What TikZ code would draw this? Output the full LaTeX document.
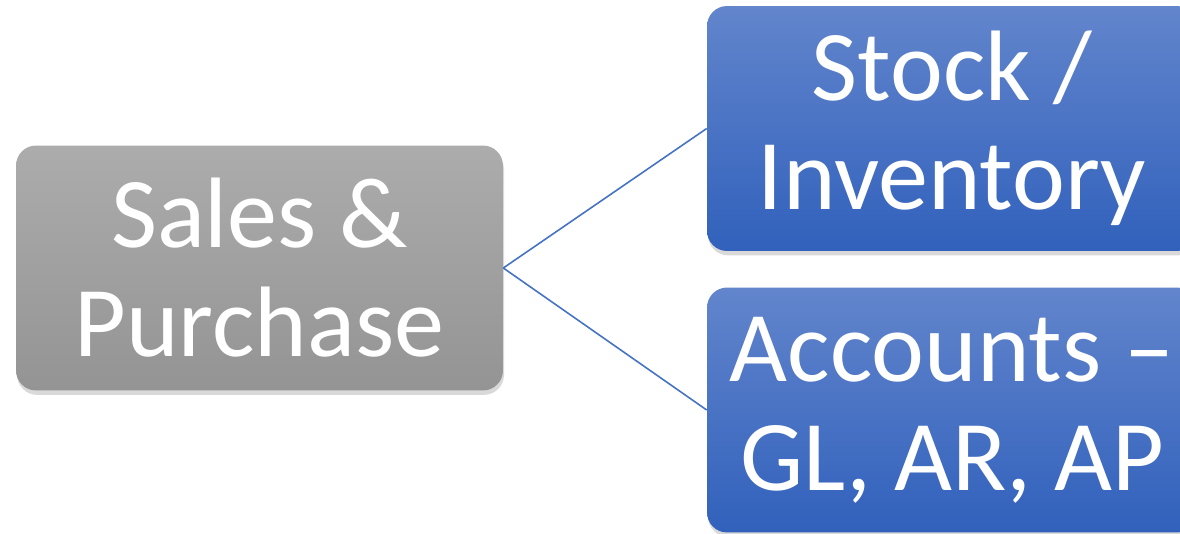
\documentclass[tikz,border=0pt]{standalone}
\usepackage{fontspec}
\setmainfont{Carlito}
\usetikzlibrary{shadows}
\definecolor{graytop}{RGB}{172,172,172}
\definecolor{graybottom}{RGB}{148,148,148}
\definecolor{bluetop}{RGB}{98,133,204}
\definecolor{bluebottom}{RGB}{49,97,188}
\definecolor{linkcolor}{RGB}{68,114,196}

\begin{document}
\begin{tikzpicture}[x=0.02cm, y=-0.02cm,
    box/.style={rounded corners=0.4cm, minimum width=9.8cm, minimum height=4.9cm,
        inner sep=0pt, align=center, text=white, font=\fontsize{57}{62}\selectfont,
        drop shadow={shadow xshift=0.6pt, shadow yshift=-2.5pt, opacity=0.3}},
    graybox/.style={box, top color=graytop, bottom color=graybottom},
    bluebox/.style={box, top color=bluetop, bottom color=bluebottom},
    link/.style={draw=linkcolor, line width=0.9pt}]
        \useasboundingbox (0,0) rectangle (1180,534);

        % Left box
        \node[graybox, minimum width=9.74cm] (sales) at (259.5,268) {Sales \&\\Purchase};

        % Right boxes
        \node[bluebox] (stock) at (952,128.5) {Stock /\\Inventory};
        \node[bluebox] (accounts) at (952,410) {Accounts –\\GL, AR, AP};

        % Connections
        \draw[link] (sales.east) -- (stock.west);
        \draw[link] (sales.east) -- (accounts.west);
    \end{tikzpicture}
\end{document}
